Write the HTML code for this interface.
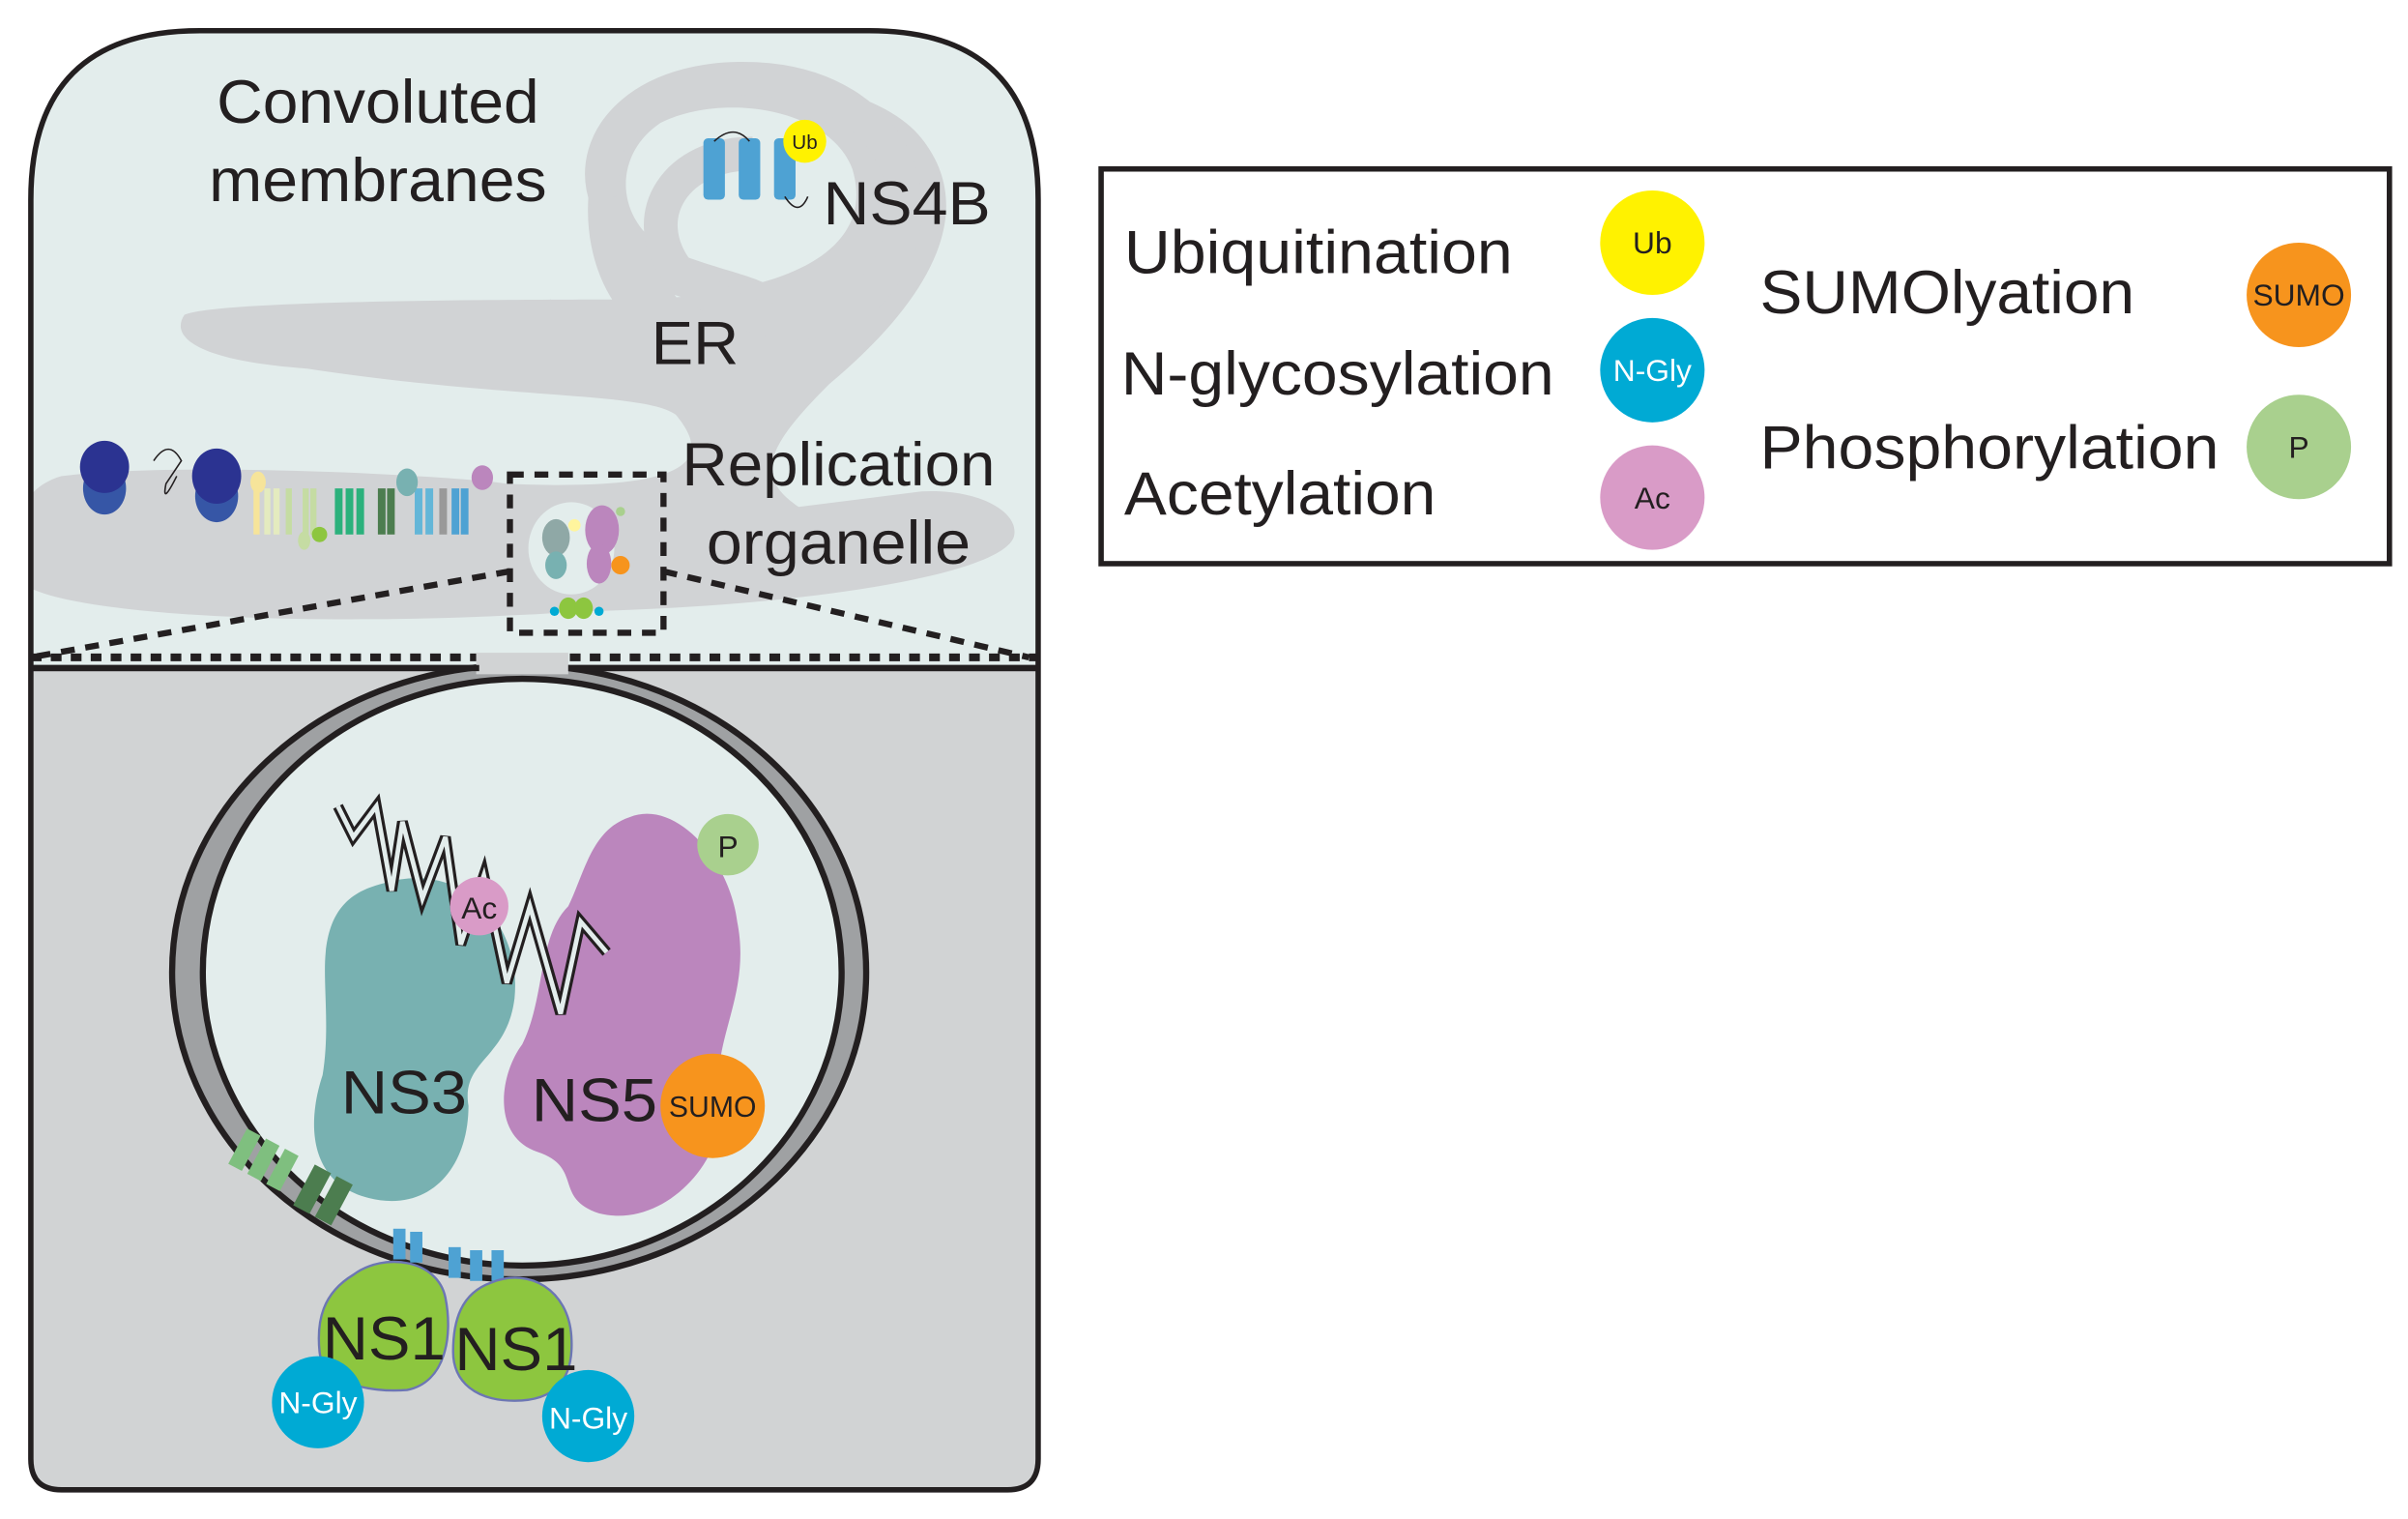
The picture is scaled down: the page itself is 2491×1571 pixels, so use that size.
<!DOCTYPE html>
<html><head><style>html,body{margin:0;padding:0;background:#fff}svg{display:block}</style></head>
<body>
<svg width="2491" height="1571" viewBox="0 0 1568 989" xmlns="http://www.w3.org/2000/svg" font-family="Liberation Sans, sans-serif">
<defs><clipPath id="top"><rect x="20" y="20" width="656" height="413"/></clipPath></defs>
<path d="M20 420 L20 130 Q20 20 130 20 L566 20 Q676 20 676 130 L676 950 Q676 970 656 970 L40 970 Q20 970 20 950 Z" fill="#d1d3d4"/>
<path d="M20 433 L20 130 Q20 20 130 20 L566 20 Q676 20 676 130 L676 433 Z" fill="#e3edec"/>
<g clip-path="url(#top)" fill="#d1d3d5">
 <path d="M470 235 C 390 230 370 150 390 95 C 420 40 560 40 600 90 C 640 140 600 200 540 250 C 500 290 490 310 520 330 L 600 320 C 640 318 665 335 660 350 C 650 375 520 395 380 398 C 200 410 40 400 15 380 C 5 360 5 320 40 310 C 120 300 300 310 330 315 C 450 320 465 300 440 270 C 420 255 330 260 200 240 C 130 235 110 220 120 205 C 140 195 350 195 420 195 C 520 190 570 160 555 110 C 540 70 470 60 430 80 C 400 100 400 140 430 160 C 460 175 500 180 505 190 C 500 200 480 205 470 200 C 420 190 380 170 395 130"/>
 <path d="M395 130 C 380 90 420 45 500 52 C 580 60 610 130 575 180 C 540 230 475 210 440 175 C 415 140 440 100 490 100" fill="none" stroke="#d1d3d5" stroke-width="22"/>
</g>
<path d="M20 433 L20 130 Q20 20 130 20 L566 20 Q676 20 676 130 L676 950 Q676 970 656 970 L40 970 Q20 970 20 950 Z" fill="none" stroke="#231f20" stroke-width="3.5"/>
<line x1="20" y1="435" x2="676" y2="435" stroke="#231f20" stroke-width="4"/>
<line x1="20" y1="428" x2="676" y2="428" stroke="#231f20" stroke-width="5" stroke-dasharray="7 6"/>
<g stroke="#231f20" stroke-width="4" stroke-dasharray="9 7" fill="none">
 <rect x="332" y="309" width="100" height="103"/>
 <line x1="332" y1="372" x2="20" y2="428"/>
 <line x1="432" y1="372" x2="670" y2="428"/>
</g>
<g fill="#231f20" font-size="40">
 <text x="141" y="80" textLength="210" lengthAdjust="spacingAndGlyphs">Convoluted</text>
 <text x="136" y="131" textLength="220" lengthAdjust="spacingAndGlyphs">membranes</text>
 <text x="536" y="146" textLength="109" lengthAdjust="spacingAndGlyphs">NS4B</text>
 <text x="424" y="237" textLength="57" lengthAdjust="spacingAndGlyphs">ER</text>
 <text x="444" y="316" textLength="204" lengthAdjust="spacingAndGlyphs">Replication</text>
 <text x="460" y="367" textLength="172" lengthAdjust="spacingAndGlyphs">organelle</text>
</g>
<g fill="#4ea2d3"><rect x="458" y="90" width="14" height="40" rx="3"/><rect x="481" y="90" width="14" height="40" rx="3"/><rect x="504" y="90" width="14" height="40" rx="3"/></g>
<path d="M465 92 Q478 80 488 92 M511 128 Q520 142 526 128" stroke="#231f20" fill="none" stroke-width="1"/>
<circle cx="524" cy="92" r="14" fill="#fff200"/><text x="524" y="97" font-size="13" text-anchor="middle" fill="#231f20">Ub</text>
<ellipse cx="68" cy="318" rx="14" ry="17" fill="#3656a6"/><ellipse cx="68" cy="304" rx="16" ry="17" fill="#2b3391"/>
<ellipse cx="141" cy="323" rx="14" ry="17" fill="#3656a6"/><ellipse cx="141" cy="310" rx="16" ry="18" fill="#2b3391"/>
<path d="M100 300 Q110 285 118 300 L108 315 Q105 330 115 310" stroke="#231f20" fill="none" stroke-width="1"/>
<g>
 <rect x="165" y="318" width="4" height="30" fill="#f6e49a"/><rect x="172" y="318" width="4" height="30" fill="#e4ebbf"/>
 <rect x="178" y="318" width="4" height="30" fill="#e4ebbf"/><rect x="186" y="318" width="4" height="30" fill="#c5dca3"/>
 <rect x="197" y="318" width="4" height="30" fill="#c5dca3"/><rect x="202" y="318" width="4" height="30" fill="#c5dca3"/>
 <rect x="218" y="318" width="5" height="30" fill="#2bb17c"/><rect x="225" y="318" width="5" height="30" fill="#2bb17c"/><rect x="232" y="318" width="5" height="30" fill="#2bb17c"/>
 <rect x="246" y="318" width="5" height="30" fill="#4c7d4f"/><rect x="252" y="318" width="5" height="30" fill="#4c7d4f"/>
 <rect x="270" y="318" width="5" height="30" fill="#63b6d8"/><rect x="277" y="318" width="5" height="30" fill="#63b6d8"/>
 <rect x="286" y="318" width="5" height="30" fill="#999"/><rect x="294" y="318" width="5" height="30" fill="#4ea2d3"/><rect x="300" y="318" width="5" height="30" fill="#4ea2d3"/>
 <ellipse cx="168" cy="314" rx="5" ry="7" fill="#f6e49a"/>
 <ellipse cx="198" cy="352" rx="4" ry="6" fill="#c5dca3"/><circle cx="208" cy="348" r="5" fill="#8dc63f"/>
 <ellipse cx="265" cy="314" rx="7" ry="9" fill="#78b1b1"/>
 <ellipse cx="314" cy="311" rx="7" ry="8" fill="#bb86bd"/>
</g>
<ellipse cx="372" cy="357" rx="28" ry="30" fill="#e3edec"/>
<ellipse cx="362" cy="350" rx="9" ry="12" fill="#8fa8a6"/><ellipse cx="362" cy="368" rx="7" ry="9" fill="#78b1b1"/>
<ellipse cx="392" cy="345" rx="11" ry="16" fill="#bb86bd"/><ellipse cx="390" cy="367" rx="8" ry="13" fill="#bb86bd"/>
<circle cx="404" cy="368" r="6" fill="#f7941d"/><circle cx="404" cy="333" r="3" fill="#a9d08e"/><circle cx="374" cy="342" r="4" fill="#fff59d"/>
<ellipse cx="370" cy="396" rx="6" ry="7" fill="#8dc63f"/><ellipse cx="380" cy="396" rx="6" ry="7" fill="#8dc63f"/>
<circle cx="361" cy="398" r="3" fill="#00aad4"/><circle cx="390" cy="398" r="3" fill="#00aad4"/>
<ellipse cx="338" cy="633" rx="226" ry="200" fill="#9fa1a3" stroke="#231f20" stroke-width="4"/>
<ellipse cx="340" cy="633" rx="208" ry="191" fill="#e3edec" stroke="#231f20" stroke-width="4"/>
<rect x="310" y="425" width="60" height="14" fill="#d1d3d4"/>
<line x1="20" y1="435" x2="312" y2="435" stroke="#231f20" stroke-width="4"/>
<line x1="370" y1="435" x2="676" y2="435" stroke="#231f20" stroke-width="4"/>
<path d="M250 575 C 300 560 340 600 335 650 C 330 690 300 690 305 720 C 305 760 280 790 240 780 C 200 770 200 730 210 700 C 215 670 210 640 212 620 C 215 590 230 580 250 575 Z" fill="#78b1b1"/>
<path d="M410 532 C 440 520 475 560 480 600 C 490 650 460 680 470 720 C 470 760 430 800 390 790 C 360 780 380 760 350 750 C 320 740 325 700 340 680 C 355 650 350 610 370 590 C 380 570 385 540 410 532 Z" fill="#bb86bd"/>
<path d="M220 525 L230 545 L245 525 L255 580 L262 535 L275 585 L290 545 L300 615 L315 570 L330 640 L345 590 L365 660 L378 600 L395 620" fill="none" stroke="#231f20" stroke-width="7" stroke-linejoin="miter"/>
<path d="M220 525 L230 545 L245 525 L255 580 L262 535 L275 585 L290 545 L300 615 L315 570 L330 640 L345 590 L365 660 L378 600 L395 620" fill="none" stroke="#e3edec" stroke-width="3"/>
<circle cx="312" cy="590" r="19" fill="#d99bc7"/><text x="312" y="598" font-size="20" text-anchor="middle" fill="#231f20">Ac</text>
<circle cx="474" cy="550" r="20" fill="#a9d08e"/><text x="474" y="558" font-size="20" text-anchor="middle" fill="#231f20">P</text>
<circle cx="464" cy="720" r="34" fill="#f7941d"/><text x="464" y="727" font-size="19" text-anchor="middle" fill="#231f20">SUMO</text>
<text x="222" y="725" font-size="40" fill="#231f20" textLength="82" lengthAdjust="spacingAndGlyphs">NS3</text>
<text x="346" y="730" font-size="40" fill="#231f20" textLength="82" lengthAdjust="spacingAndGlyphs">NS5</text>
<g transform="rotate(28 190 765)"><rect x="150" y="752" width="10" height="26" fill="#7fbf7f"/><rect x="164" y="752" width="10" height="26" fill="#7fbf7f"/><rect x="178" y="752" width="10" height="26" fill="#7fbf7f"/><rect x="200" y="752" width="12" height="30" fill="#4c7d4f"/><rect x="216" y="752" width="12" height="30" fill="#4c7d4f"/></g>
<g fill="#4ea2d3"><rect x="256" y="800" width="8" height="20"/><rect x="267" y="802" width="8" height="20"/><rect x="292" y="812" width="8" height="20"/><rect x="306" y="814" width="8" height="20"/><rect x="320" y="814" width="8" height="20"/></g>
<path d="M230 830 C 250 815 285 820 290 845 C 295 870 290 900 265 905 C 240 907 210 900 208 880 C 206 860 210 842 230 830 Z" fill="#8dc63f" stroke="#6c76b4" stroke-width="1.5"/>
<path d="M320 835 C 345 825 370 840 372 870 C 374 900 360 912 335 912 C 310 912 295 900 295 880 C 295 860 300 842 320 835 Z" fill="#8dc63f" stroke="#6c76b4" stroke-width="1.5"/>
<text x="210" y="885" font-size="40" fill="#231f20" textLength="80" lengthAdjust="spacingAndGlyphs">NS1</text>
<text x="296" y="892" font-size="40" fill="#231f20" textLength="80" lengthAdjust="spacingAndGlyphs">NS1</text>
<circle cx="207" cy="913" r="30" fill="#00aad4"/><text x="207" y="920" font-size="20" text-anchor="middle" fill="#fff">N-Gly</text>
<circle cx="383" cy="922" r="30" fill="#00aad4"/><text x="383" y="930" font-size="20" text-anchor="middle" fill="#fff">N-Gly</text>
<rect x="717" y="110" width="839" height="257" fill="#fff" stroke="#231f20" stroke-width="3.5"/>
<g font-size="40" fill="#231f20">
 <text x="732" y="178" textLength="253" lengthAdjust="spacingAndGlyphs">Ubiquitination</text>
 <text x="730" y="257" textLength="282" lengthAdjust="spacingAndGlyphs">N-glycosylation</text>
 <text x="732" y="335" textLength="203" lengthAdjust="spacingAndGlyphs">Acetylation</text>
 <text x="1146" y="204" textLength="244" lengthAdjust="spacingAndGlyphs">SUMOlyation</text>
 <text x="1146" y="305" textLength="299" lengthAdjust="spacingAndGlyphs">Phosphorylation</text>
</g>
<circle cx="1076" cy="158" r="34" fill="#fff200"/><text x="1076" y="165" font-size="20" text-anchor="middle" fill="#231f20">Ub</text>
<circle cx="1076" cy="241" r="34" fill="#00aad4"/><text x="1076" y="248" font-size="20" text-anchor="middle" fill="#fff">N-Gly</text>
<circle cx="1076" cy="324" r="34" fill="#d99bc7"/><text x="1076" y="331" font-size="20" text-anchor="middle" fill="#231f20">Ac</text>
<circle cx="1497" cy="192" r="34" fill="#f7941d"/><text x="1497" y="199" font-size="20" text-anchor="middle" fill="#231f20">SUMO</text>
<circle cx="1497" cy="291" r="34" fill="#a9d08e"/><text x="1497" y="298" font-size="20" text-anchor="middle" fill="#231f20">P</text>
</svg>
</body></html>
